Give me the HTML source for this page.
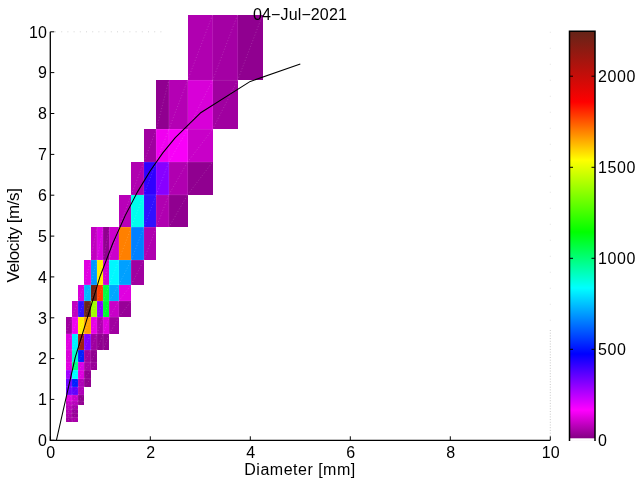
<!DOCTYPE html>
<html><head><meta charset="utf-8"><title>04-Jul-2021</title>
<style>
html,body{margin:0;padding:0;background:#fff;}
svg{display:block;}
text{font-family:"Liberation Sans",sans-serif;font-size:16px;fill:#000;}
text.t{font-size:16px;letter-spacing:0.6px;}
</style></head><body>
<svg width="640" height="480" viewBox="0 0 640 480">
<rect width="640" height="480" fill="#fff"/>
<g shape-rendering="crispEdges">
<rect x="65.65" y="417.43" width="6.25" height="4.08" fill="#a400a4"/>
<rect x="71.90" y="417.43" width="6.25" height="4.08" fill="#a800a8"/>
<rect x="65.65" y="413.35" width="6.25" height="4.09" fill="#ae00ae"/>
<rect x="71.90" y="413.35" width="6.25" height="4.09" fill="#960096"/>
<rect x="65.65" y="409.26" width="6.25" height="4.08" fill="#b400b4"/>
<rect x="71.90" y="409.26" width="6.25" height="4.08" fill="#98009c"/>
<rect x="65.65" y="405.18" width="6.25" height="4.09" fill="#ba00ba"/>
<rect x="71.90" y="405.18" width="6.25" height="4.09" fill="#a600aa"/>
<rect x="65.65" y="401.09" width="6.25" height="4.08" fill="#c400c4"/>
<rect x="71.90" y="401.09" width="6.25" height="4.08" fill="#b800bc"/>
<rect x="78.15" y="401.09" width="6.25" height="4.08" fill="#940094"/>
<rect x="65.65" y="394.96" width="6.25" height="6.13" fill="#e000e0"/>
<rect x="71.90" y="394.96" width="6.25" height="6.13" fill="#c800cc"/>
<rect x="78.15" y="394.96" width="6.25" height="6.13" fill="#900090"/>
<rect x="65.65" y="386.79" width="6.25" height="8.17" fill="#7000ff"/>
<rect x="71.90" y="386.79" width="6.25" height="8.17" fill="#6000ff"/>
<rect x="78.15" y="386.79" width="6.25" height="8.17" fill="#b000b8"/>
<rect x="65.65" y="378.62" width="6.25" height="8.17" fill="#7000ff"/>
<rect x="71.90" y="378.62" width="6.25" height="8.17" fill="#0020ff"/>
<rect x="78.15" y="378.62" width="6.25" height="8.17" fill="#b000b8"/>
<rect x="84.40" y="378.62" width="6.25" height="8.17" fill="#900090"/>
<rect x="65.65" y="370.45" width="6.25" height="8.17" fill="#a000ff"/>
<rect x="71.90" y="370.45" width="6.25" height="8.17" fill="#00ffff"/>
<rect x="78.15" y="370.45" width="6.25" height="8.17" fill="#dd00dd"/>
<rect x="84.40" y="370.45" width="6.25" height="8.17" fill="#900090"/>
<rect x="65.65" y="362.28" width="6.25" height="8.17" fill="#e000e0"/>
<rect x="71.90" y="362.28" width="6.25" height="8.17" fill="#00ff80"/>
<rect x="78.15" y="362.28" width="6.25" height="8.17" fill="#d800e8"/>
<rect x="84.40" y="362.28" width="6.25" height="8.17" fill="#a800a8"/>
<rect x="90.65" y="362.28" width="6.25" height="8.17" fill="#980098"/>
<rect x="65.65" y="350.03" width="6.25" height="12.25" fill="#d800d8"/>
<rect x="71.90" y="350.03" width="6.25" height="12.25" fill="#00ffcc"/>
<rect x="78.15" y="350.03" width="6.25" height="12.25" fill="#0020ff"/>
<rect x="84.40" y="350.03" width="6.25" height="12.25" fill="#a000a0"/>
<rect x="90.65" y="350.03" width="6.25" height="12.25" fill="#900090"/>
<rect x="65.65" y="333.69" width="6.25" height="16.34" fill="#e000e0"/>
<rect x="71.90" y="333.69" width="6.25" height="16.34" fill="#00f0ff"/>
<rect x="78.15" y="333.69" width="6.25" height="16.34" fill="#a02010"/>
<rect x="84.40" y="333.69" width="6.25" height="16.34" fill="#8000ff"/>
<rect x="90.65" y="333.69" width="6.25" height="16.34" fill="#a000a0"/>
<rect x="96.90" y="333.69" width="6.25" height="16.34" fill="#900090"/>
<rect x="103.15" y="333.69" width="6.25" height="16.34" fill="#900090"/>
<rect x="65.65" y="317.35" width="6.25" height="16.34" fill="#a000a0"/>
<rect x="71.90" y="317.35" width="6.25" height="16.34" fill="#f000f0"/>
<rect x="78.15" y="317.35" width="6.25" height="16.34" fill="#ffee00"/>
<rect x="84.40" y="317.35" width="6.25" height="16.34" fill="#ffa000"/>
<rect x="90.65" y="317.35" width="6.25" height="16.34" fill="#e800e8"/>
<rect x="96.90" y="317.35" width="6.25" height="16.34" fill="#b000b0"/>
<rect x="103.15" y="317.35" width="6.25" height="16.34" fill="#e000e0"/>
<rect x="109.40" y="317.35" width="9.40" height="16.34" fill="#a000a0"/>
<rect x="71.90" y="301.01" width="6.25" height="16.34" fill="#c000c0"/>
<rect x="78.15" y="301.01" width="6.25" height="16.34" fill="#3010ff"/>
<rect x="84.40" y="301.01" width="6.25" height="16.34" fill="#6a2418"/>
<rect x="90.65" y="301.01" width="6.25" height="16.34" fill="#a0ff00"/>
<rect x="96.90" y="301.01" width="6.25" height="16.34" fill="#9000ff"/>
<rect x="103.15" y="301.01" width="6.25" height="16.34" fill="#00ff30"/>
<rect x="109.40" y="301.01" width="9.40" height="16.34" fill="#c800c8"/>
<rect x="118.80" y="301.01" width="12.50" height="16.34" fill="#980098"/>
<rect x="78.15" y="284.67" width="6.25" height="16.34" fill="#d800d8"/>
<rect x="84.40" y="284.67" width="6.25" height="16.34" fill="#00b8ff"/>
<rect x="90.65" y="284.67" width="6.25" height="16.34" fill="#702010"/>
<rect x="96.90" y="284.67" width="6.25" height="16.34" fill="#ff4000"/>
<rect x="103.15" y="284.67" width="6.25" height="16.34" fill="#00ff40"/>
<rect x="109.40" y="284.67" width="9.40" height="16.34" fill="#00a8ff"/>
<rect x="118.80" y="284.67" width="12.50" height="16.34" fill="#e000e0"/>
<rect x="84.40" y="260.16" width="6.25" height="24.51" fill="#e000e0"/>
<rect x="90.65" y="260.16" width="6.25" height="24.51" fill="#0098ff"/>
<rect x="96.90" y="260.16" width="6.25" height="24.51" fill="#fff000"/>
<rect x="103.15" y="260.16" width="6.25" height="24.51" fill="#d000d0"/>
<rect x="109.40" y="260.16" width="9.40" height="24.51" fill="#00f8ff"/>
<rect x="118.80" y="260.16" width="12.50" height="24.51" fill="#00a0ff"/>
<rect x="131.30" y="260.16" width="12.50" height="24.51" fill="#a000a0"/>
<rect x="90.65" y="227.48" width="6.25" height="32.68" fill="#c000c0"/>
<rect x="96.90" y="227.48" width="6.25" height="32.68" fill="#d800e0"/>
<rect x="103.15" y="227.48" width="6.25" height="32.68" fill="#900090"/>
<rect x="109.40" y="227.48" width="9.40" height="32.68" fill="#cc00cc"/>
<rect x="118.80" y="227.48" width="12.50" height="32.68" fill="#ff8000"/>
<rect x="131.30" y="227.48" width="12.50" height="32.68" fill="#0080ff"/>
<rect x="143.80" y="227.48" width="12.50" height="32.68" fill="#b000b0"/>
<rect x="118.80" y="194.80" width="12.50" height="32.68" fill="#b800b8"/>
<rect x="131.30" y="194.80" width="12.50" height="32.68" fill="#00ffee"/>
<rect x="143.80" y="194.80" width="12.50" height="32.68" fill="#3010ff"/>
<rect x="156.30" y="194.80" width="12.50" height="32.68" fill="#b000b0"/>
<rect x="168.80" y="194.80" width="18.75" height="32.68" fill="#900090"/>
<rect x="131.30" y="162.12" width="12.50" height="32.68" fill="#b000b0"/>
<rect x="143.80" y="162.12" width="12.50" height="32.68" fill="#3000ff"/>
<rect x="156.30" y="162.12" width="12.50" height="32.68" fill="#8800ff"/>
<rect x="168.80" y="162.12" width="18.75" height="32.68" fill="#b000b0"/>
<rect x="187.55" y="162.12" width="25.00" height="32.68" fill="#900090"/>
<rect x="143.80" y="129.44" width="12.50" height="32.68" fill="#a000a0"/>
<rect x="156.30" y="129.44" width="12.50" height="32.68" fill="#f000f0"/>
<rect x="168.80" y="129.44" width="18.75" height="32.68" fill="#f800f8"/>
<rect x="187.55" y="129.44" width="25.00" height="32.68" fill="#c800c8"/>
<rect x="156.30" y="80.42" width="12.50" height="49.02" fill="#900090"/>
<rect x="168.80" y="80.42" width="18.75" height="49.02" fill="#b400b4"/>
<rect x="187.55" y="80.42" width="25.00" height="49.02" fill="#d800d8"/>
<rect x="212.55" y="80.42" width="25.00" height="49.02" fill="#a000a0"/>
<rect x="187.55" y="15.06" width="25.00" height="65.36" fill="#b000b0"/>
<rect x="212.55" y="15.06" width="25.00" height="65.36" fill="#a400a4"/>
<rect x="237.55" y="15.06" width="25.00" height="65.36" fill="#900090"/>
</g>
<g stroke="#fff" stroke-width="0.8" fill="none">
<path d="M65.65 421.52L71.90 417.43" stroke-opacity="0.22" stroke-dasharray="1 2"/>
<path d="M65.65 417.43H71.90" stroke-opacity="0.13"/>
<path d="M71.90 421.52V417.43" stroke-opacity="0.13"/>
<path d="M71.90 421.52L78.15 417.43" stroke-opacity="0.22" stroke-dasharray="1 2"/>
<path d="M71.90 417.43H78.15" stroke-opacity="0.13"/>
<path d="M65.65 417.43L71.90 413.35" stroke-opacity="0.22" stroke-dasharray="1 2"/>
<path d="M65.65 413.35H71.90" stroke-opacity="0.13"/>
<path d="M71.90 417.43V413.35" stroke-opacity="0.13"/>
<path d="M71.90 417.43L78.15 413.35" stroke-opacity="0.22" stroke-dasharray="1 2"/>
<path d="M71.90 413.35H78.15" stroke-opacity="0.13"/>
<path d="M65.65 413.35L71.90 409.26" stroke-opacity="0.22" stroke-dasharray="1 2"/>
<path d="M65.65 409.26H71.90" stroke-opacity="0.13"/>
<path d="M71.90 413.35V409.26" stroke-opacity="0.13"/>
<path d="M71.90 413.35L78.15 409.26" stroke-opacity="0.22" stroke-dasharray="1 2"/>
<path d="M71.90 409.26H78.15" stroke-opacity="0.13"/>
<path d="M65.65 409.26L71.90 405.18" stroke-opacity="0.22" stroke-dasharray="1 2"/>
<path d="M65.65 405.18H71.90" stroke-opacity="0.13"/>
<path d="M71.90 409.26V405.18" stroke-opacity="0.13"/>
<path d="M71.90 409.26L78.15 405.18" stroke-opacity="0.22" stroke-dasharray="1 2"/>
<path d="M71.90 405.18H78.15" stroke-opacity="0.13"/>
<path d="M65.65 405.18L71.90 401.09" stroke-opacity="0.22" stroke-dasharray="1 2"/>
<path d="M65.65 401.09H71.90" stroke-opacity="0.13"/>
<path d="M71.90 405.18V401.09" stroke-opacity="0.13"/>
<path d="M71.90 405.18L78.15 401.09" stroke-opacity="0.22" stroke-dasharray="1 2"/>
<path d="M71.90 401.09H78.15" stroke-opacity="0.13"/>
<path d="M78.15 405.18V401.09" stroke-opacity="0.13"/>
<path d="M78.15 405.18L84.40 401.09" stroke-opacity="0.22" stroke-dasharray="1 2"/>
<path d="M78.15 401.09H84.40" stroke-opacity="0.13"/>
<path d="M65.65 401.09L71.90 394.96" stroke-opacity="0.22" stroke-dasharray="1 2"/>
<path d="M65.65 394.96H71.90" stroke-opacity="0.13"/>
<path d="M71.90 401.09V394.96" stroke-opacity="0.13"/>
<path d="M71.90 401.09L78.15 394.96" stroke-opacity="0.22" stroke-dasharray="1 2"/>
<path d="M71.90 394.96H78.15" stroke-opacity="0.13"/>
<path d="M78.15 401.09V394.96" stroke-opacity="0.13"/>
<path d="M78.15 401.09L84.40 394.96" stroke-opacity="0.22" stroke-dasharray="1 2"/>
<path d="M78.15 394.96H84.40" stroke-opacity="0.13"/>
<path d="M65.65 394.96L71.90 386.79" stroke-opacity="0.22" stroke-dasharray="1 2"/>
<path d="M65.65 386.79H71.90" stroke-opacity="0.13"/>
<path d="M71.90 394.96V386.79" stroke-opacity="0.13"/>
<path d="M71.90 394.96L78.15 386.79" stroke-opacity="0.22" stroke-dasharray="1 2"/>
<path d="M71.90 386.79H78.15" stroke-opacity="0.13"/>
<path d="M78.15 394.96V386.79" stroke-opacity="0.13"/>
<path d="M78.15 394.96L84.40 386.79" stroke-opacity="0.22" stroke-dasharray="1 2"/>
<path d="M78.15 386.79H84.40" stroke-opacity="0.13"/>
<path d="M65.65 386.79L71.90 378.62" stroke-opacity="0.22" stroke-dasharray="1 2"/>
<path d="M65.65 378.62H71.90" stroke-opacity="0.13"/>
<path d="M71.90 386.79V378.62" stroke-opacity="0.13"/>
<path d="M71.90 386.79L78.15 378.62" stroke-opacity="0.22" stroke-dasharray="1 2"/>
<path d="M71.90 378.62H78.15" stroke-opacity="0.13"/>
<path d="M78.15 386.79V378.62" stroke-opacity="0.13"/>
<path d="M78.15 386.79L84.40 378.62" stroke-opacity="0.22" stroke-dasharray="1 2"/>
<path d="M78.15 378.62H84.40" stroke-opacity="0.13"/>
<path d="M84.40 386.79V378.62" stroke-opacity="0.13"/>
<path d="M84.40 386.79L90.65 378.62" stroke-opacity="0.22" stroke-dasharray="1 2"/>
<path d="M84.40 378.62H90.65" stroke-opacity="0.13"/>
<path d="M65.65 378.62L71.90 370.45" stroke-opacity="0.22" stroke-dasharray="1 2"/>
<path d="M65.65 370.45H71.90" stroke-opacity="0.13"/>
<path d="M71.90 378.62V370.45" stroke-opacity="0.13"/>
<path d="M71.90 378.62L78.15 370.45" stroke-opacity="0.22" stroke-dasharray="1 2"/>
<path d="M71.90 370.45H78.15" stroke-opacity="0.13"/>
<path d="M78.15 378.62V370.45" stroke-opacity="0.13"/>
<path d="M78.15 378.62L84.40 370.45" stroke-opacity="0.22" stroke-dasharray="1 2"/>
<path d="M78.15 370.45H84.40" stroke-opacity="0.13"/>
<path d="M84.40 378.62V370.45" stroke-opacity="0.13"/>
<path d="M84.40 378.62L90.65 370.45" stroke-opacity="0.22" stroke-dasharray="1 2"/>
<path d="M84.40 370.45H90.65" stroke-opacity="0.13"/>
<path d="M65.65 370.45L71.90 362.28" stroke-opacity="0.22" stroke-dasharray="1 2"/>
<path d="M65.65 362.28H71.90" stroke-opacity="0.13"/>
<path d="M71.90 370.45V362.28" stroke-opacity="0.13"/>
<path d="M71.90 370.45L78.15 362.28" stroke-opacity="0.22" stroke-dasharray="1 2"/>
<path d="M71.90 362.28H78.15" stroke-opacity="0.13"/>
<path d="M78.15 370.45V362.28" stroke-opacity="0.13"/>
<path d="M78.15 370.45L84.40 362.28" stroke-opacity="0.22" stroke-dasharray="1 2"/>
<path d="M78.15 362.28H84.40" stroke-opacity="0.13"/>
<path d="M84.40 370.45V362.28" stroke-opacity="0.13"/>
<path d="M84.40 370.45L90.65 362.28" stroke-opacity="0.22" stroke-dasharray="1 2"/>
<path d="M84.40 362.28H90.65" stroke-opacity="0.13"/>
<path d="M90.65 370.45V362.28" stroke-opacity="0.13"/>
<path d="M90.65 370.45L96.90 362.28" stroke-opacity="0.22" stroke-dasharray="1 2"/>
<path d="M90.65 362.28H96.90" stroke-opacity="0.13"/>
<path d="M65.65 362.28L71.90 350.03" stroke-opacity="0.22" stroke-dasharray="1 2"/>
<path d="M65.65 350.03H71.90" stroke-opacity="0.13"/>
<path d="M71.90 362.28V350.03" stroke-opacity="0.13"/>
<path d="M71.90 362.28L78.15 350.03" stroke-opacity="0.22" stroke-dasharray="1 2"/>
<path d="M71.90 350.03H78.15" stroke-opacity="0.13"/>
<path d="M78.15 362.28V350.03" stroke-opacity="0.13"/>
<path d="M78.15 362.28L84.40 350.03" stroke-opacity="0.22" stroke-dasharray="1 2"/>
<path d="M78.15 350.03H84.40" stroke-opacity="0.13"/>
<path d="M84.40 362.28V350.03" stroke-opacity="0.13"/>
<path d="M84.40 362.28L90.65 350.03" stroke-opacity="0.22" stroke-dasharray="1 2"/>
<path d="M84.40 350.03H90.65" stroke-opacity="0.13"/>
<path d="M90.65 362.28V350.03" stroke-opacity="0.13"/>
<path d="M90.65 362.28L96.90 350.03" stroke-opacity="0.22" stroke-dasharray="1 2"/>
<path d="M90.65 350.03H96.90" stroke-opacity="0.13"/>
<path d="M65.65 350.03L71.90 333.69" stroke-opacity="0.22" stroke-dasharray="1 2"/>
<path d="M65.65 333.69H71.90" stroke-opacity="0.13"/>
<path d="M71.90 350.03V333.69" stroke-opacity="0.13"/>
<path d="M71.90 350.03L78.15 333.69" stroke-opacity="0.22" stroke-dasharray="1 2"/>
<path d="M71.90 333.69H78.15" stroke-opacity="0.13"/>
<path d="M78.15 350.03V333.69" stroke-opacity="0.13"/>
<path d="M78.15 350.03L84.40 333.69" stroke-opacity="0.22" stroke-dasharray="1 2"/>
<path d="M78.15 333.69H84.40" stroke-opacity="0.13"/>
<path d="M84.40 350.03V333.69" stroke-opacity="0.13"/>
<path d="M84.40 350.03L90.65 333.69" stroke-opacity="0.22" stroke-dasharray="1 2"/>
<path d="M84.40 333.69H90.65" stroke-opacity="0.13"/>
<path d="M90.65 350.03V333.69" stroke-opacity="0.13"/>
<path d="M90.65 350.03L96.90 333.69" stroke-opacity="0.22" stroke-dasharray="1 2"/>
<path d="M90.65 333.69H96.90" stroke-opacity="0.13"/>
<path d="M96.90 350.03V333.69" stroke-opacity="0.13"/>
<path d="M96.90 350.03L103.15 333.69" stroke-opacity="0.22" stroke-dasharray="1 2"/>
<path d="M96.90 333.69H103.15" stroke-opacity="0.13"/>
<path d="M103.15 350.03V333.69" stroke-opacity="0.13"/>
<path d="M103.15 350.03L109.40 333.69" stroke-opacity="0.22" stroke-dasharray="1 2"/>
<path d="M103.15 333.69H109.40" stroke-opacity="0.13"/>
<path d="M65.65 333.69L71.90 317.35" stroke-opacity="0.22" stroke-dasharray="1 2"/>
<path d="M71.90 333.69V317.35" stroke-opacity="0.13"/>
<path d="M71.90 333.69L78.15 317.35" stroke-opacity="0.22" stroke-dasharray="1 2"/>
<path d="M71.90 317.35H78.15" stroke-opacity="0.13"/>
<path d="M78.15 333.69V317.35" stroke-opacity="0.13"/>
<path d="M78.15 333.69L84.40 317.35" stroke-opacity="0.22" stroke-dasharray="1 2"/>
<path d="M78.15 317.35H84.40" stroke-opacity="0.13"/>
<path d="M84.40 333.69V317.35" stroke-opacity="0.13"/>
<path d="M84.40 333.69L90.65 317.35" stroke-opacity="0.22" stroke-dasharray="1 2"/>
<path d="M84.40 317.35H90.65" stroke-opacity="0.13"/>
<path d="M90.65 333.69V317.35" stroke-opacity="0.13"/>
<path d="M90.65 333.69L96.90 317.35" stroke-opacity="0.22" stroke-dasharray="1 2"/>
<path d="M90.65 317.35H96.90" stroke-opacity="0.13"/>
<path d="M96.90 333.69V317.35" stroke-opacity="0.13"/>
<path d="M96.90 333.69L103.15 317.35" stroke-opacity="0.22" stroke-dasharray="1 2"/>
<path d="M96.90 317.35H103.15" stroke-opacity="0.13"/>
<path d="M103.15 333.69V317.35" stroke-opacity="0.13"/>
<path d="M103.15 333.69L109.40 317.35" stroke-opacity="0.22" stroke-dasharray="1 2"/>
<path d="M103.15 317.35H109.40" stroke-opacity="0.13"/>
<path d="M109.40 333.69V317.35" stroke-opacity="0.13"/>
<path d="M109.40 333.69L118.80 317.35" stroke-opacity="0.22" stroke-dasharray="1 2"/>
<path d="M109.40 317.35H118.80" stroke-opacity="0.13"/>
<path d="M71.90 317.35L78.15 301.01" stroke-opacity="0.22" stroke-dasharray="1 2"/>
<path d="M78.15 317.35V301.01" stroke-opacity="0.13"/>
<path d="M78.15 317.35L84.40 301.01" stroke-opacity="0.22" stroke-dasharray="1 2"/>
<path d="M78.15 301.01H84.40" stroke-opacity="0.13"/>
<path d="M84.40 317.35V301.01" stroke-opacity="0.13"/>
<path d="M84.40 317.35L90.65 301.01" stroke-opacity="0.22" stroke-dasharray="1 2"/>
<path d="M84.40 301.01H90.65" stroke-opacity="0.13"/>
<path d="M90.65 317.35V301.01" stroke-opacity="0.13"/>
<path d="M90.65 317.35L96.90 301.01" stroke-opacity="0.22" stroke-dasharray="1 2"/>
<path d="M90.65 301.01H96.90" stroke-opacity="0.13"/>
<path d="M96.90 317.35V301.01" stroke-opacity="0.13"/>
<path d="M96.90 317.35L103.15 301.01" stroke-opacity="0.22" stroke-dasharray="1 2"/>
<path d="M96.90 301.01H103.15" stroke-opacity="0.13"/>
<path d="M103.15 317.35V301.01" stroke-opacity="0.13"/>
<path d="M103.15 317.35L109.40 301.01" stroke-opacity="0.22" stroke-dasharray="1 2"/>
<path d="M103.15 301.01H109.40" stroke-opacity="0.13"/>
<path d="M109.40 317.35V301.01" stroke-opacity="0.13"/>
<path d="M109.40 317.35L118.80 301.01" stroke-opacity="0.22" stroke-dasharray="1 2"/>
<path d="M109.40 301.01H118.80" stroke-opacity="0.13"/>
<path d="M118.80 317.35V301.01" stroke-opacity="0.13"/>
<path d="M118.80 317.35L131.30 301.01" stroke-opacity="0.22" stroke-dasharray="1 2"/>
<path d="M118.80 301.01H131.30" stroke-opacity="0.13"/>
<path d="M78.15 301.01L84.40 284.67" stroke-opacity="0.22" stroke-dasharray="1 2"/>
<path d="M84.40 301.01V284.67" stroke-opacity="0.13"/>
<path d="M84.40 301.01L90.65 284.67" stroke-opacity="0.22" stroke-dasharray="1 2"/>
<path d="M84.40 284.67H90.65" stroke-opacity="0.13"/>
<path d="M90.65 301.01V284.67" stroke-opacity="0.13"/>
<path d="M90.65 301.01L96.90 284.67" stroke-opacity="0.22" stroke-dasharray="1 2"/>
<path d="M90.65 284.67H96.90" stroke-opacity="0.13"/>
<path d="M96.90 301.01V284.67" stroke-opacity="0.13"/>
<path d="M96.90 301.01L103.15 284.67" stroke-opacity="0.22" stroke-dasharray="1 2"/>
<path d="M96.90 284.67H103.15" stroke-opacity="0.13"/>
<path d="M103.15 301.01V284.67" stroke-opacity="0.13"/>
<path d="M103.15 301.01L109.40 284.67" stroke-opacity="0.22" stroke-dasharray="1 2"/>
<path d="M103.15 284.67H109.40" stroke-opacity="0.13"/>
<path d="M109.40 301.01V284.67" stroke-opacity="0.13"/>
<path d="M109.40 301.01L118.80 284.67" stroke-opacity="0.22" stroke-dasharray="1 2"/>
<path d="M109.40 284.67H118.80" stroke-opacity="0.13"/>
<path d="M118.80 301.01V284.67" stroke-opacity="0.13"/>
<path d="M118.80 301.01L131.30 284.67" stroke-opacity="0.22" stroke-dasharray="1 2"/>
<path d="M118.80 284.67H131.30" stroke-opacity="0.13"/>
<path d="M84.40 284.67L90.65 260.16" stroke-opacity="0.22" stroke-dasharray="1 2"/>
<path d="M90.65 284.67V260.16" stroke-opacity="0.13"/>
<path d="M90.65 284.67L96.90 260.16" stroke-opacity="0.22" stroke-dasharray="1 2"/>
<path d="M90.65 260.16H96.90" stroke-opacity="0.13"/>
<path d="M96.90 284.67V260.16" stroke-opacity="0.13"/>
<path d="M96.90 284.67L103.15 260.16" stroke-opacity="0.22" stroke-dasharray="1 2"/>
<path d="M96.90 260.16H103.15" stroke-opacity="0.13"/>
<path d="M103.15 284.67V260.16" stroke-opacity="0.13"/>
<path d="M103.15 284.67L109.40 260.16" stroke-opacity="0.22" stroke-dasharray="1 2"/>
<path d="M103.15 260.16H109.40" stroke-opacity="0.13"/>
<path d="M109.40 284.67V260.16" stroke-opacity="0.13"/>
<path d="M109.40 284.67L118.80 260.16" stroke-opacity="0.22" stroke-dasharray="1 2"/>
<path d="M109.40 260.16H118.80" stroke-opacity="0.13"/>
<path d="M118.80 284.67V260.16" stroke-opacity="0.13"/>
<path d="M118.80 284.67L131.30 260.16" stroke-opacity="0.22" stroke-dasharray="1 2"/>
<path d="M118.80 260.16H131.30" stroke-opacity="0.13"/>
<path d="M131.30 284.67V260.16" stroke-opacity="0.13"/>
<path d="M131.30 284.67L143.80 260.16" stroke-opacity="0.22" stroke-dasharray="1 2"/>
<path d="M131.30 260.16H143.80" stroke-opacity="0.13"/>
<path d="M90.65 260.16L96.90 227.48" stroke-opacity="0.22" stroke-dasharray="1 2"/>
<path d="M96.90 260.16V227.48" stroke-opacity="0.13"/>
<path d="M96.90 260.16L103.15 227.48" stroke-opacity="0.22" stroke-dasharray="1 2"/>
<path d="M103.15 260.16V227.48" stroke-opacity="0.13"/>
<path d="M103.15 260.16L109.40 227.48" stroke-opacity="0.22" stroke-dasharray="1 2"/>
<path d="M109.40 260.16V227.48" stroke-opacity="0.13"/>
<path d="M109.40 260.16L118.80 227.48" stroke-opacity="0.22" stroke-dasharray="1 2"/>
<path d="M118.80 260.16V227.48" stroke-opacity="0.13"/>
<path d="M118.80 260.16L131.30 227.48" stroke-opacity="0.22" stroke-dasharray="1 2"/>
<path d="M118.80 227.48H131.30" stroke-opacity="0.13"/>
<path d="M131.30 260.16V227.48" stroke-opacity="0.13"/>
<path d="M131.30 260.16L143.80 227.48" stroke-opacity="0.22" stroke-dasharray="1 2"/>
<path d="M131.30 227.48H143.80" stroke-opacity="0.13"/>
<path d="M143.80 260.16V227.48" stroke-opacity="0.13"/>
<path d="M143.80 260.16L156.30 227.48" stroke-opacity="0.22" stroke-dasharray="1 2"/>
<path d="M143.80 227.48H156.30" stroke-opacity="0.13"/>
<path d="M118.80 227.48L131.30 194.80" stroke-opacity="0.22" stroke-dasharray="1 2"/>
<path d="M131.30 227.48V194.80" stroke-opacity="0.13"/>
<path d="M131.30 227.48L143.80 194.80" stroke-opacity="0.22" stroke-dasharray="1 2"/>
<path d="M131.30 194.80H143.80" stroke-opacity="0.13"/>
<path d="M143.80 227.48V194.80" stroke-opacity="0.13"/>
<path d="M143.80 227.48L156.30 194.80" stroke-opacity="0.22" stroke-dasharray="1 2"/>
<path d="M143.80 194.80H156.30" stroke-opacity="0.13"/>
<path d="M156.30 227.48V194.80" stroke-opacity="0.13"/>
<path d="M156.30 227.48L168.80 194.80" stroke-opacity="0.22" stroke-dasharray="1 2"/>
<path d="M156.30 194.80H168.80" stroke-opacity="0.13"/>
<path d="M168.80 227.48V194.80" stroke-opacity="0.13"/>
<path d="M168.80 227.48L187.55 194.80" stroke-opacity="0.22" stroke-dasharray="1 2"/>
<path d="M168.80 194.80H187.55" stroke-opacity="0.13"/>
<path d="M131.30 194.80L143.80 162.12" stroke-opacity="0.22" stroke-dasharray="1 2"/>
<path d="M143.80 194.80V162.12" stroke-opacity="0.13"/>
<path d="M143.80 194.80L156.30 162.12" stroke-opacity="0.22" stroke-dasharray="1 2"/>
<path d="M143.80 162.12H156.30" stroke-opacity="0.13"/>
<path d="M156.30 194.80V162.12" stroke-opacity="0.13"/>
<path d="M156.30 194.80L168.80 162.12" stroke-opacity="0.22" stroke-dasharray="1 2"/>
<path d="M156.30 162.12H168.80" stroke-opacity="0.13"/>
<path d="M168.80 194.80V162.12" stroke-opacity="0.13"/>
<path d="M168.80 194.80L187.55 162.12" stroke-opacity="0.22" stroke-dasharray="1 2"/>
<path d="M168.80 162.12H187.55" stroke-opacity="0.13"/>
<path d="M187.55 194.80V162.12" stroke-opacity="0.13"/>
<path d="M187.55 194.80L212.55 162.12" stroke-opacity="0.22" stroke-dasharray="1 2"/>
<path d="M187.55 162.12H212.55" stroke-opacity="0.13"/>
<path d="M143.80 162.12L156.30 129.44" stroke-opacity="0.22" stroke-dasharray="1 2"/>
<path d="M156.30 162.12V129.44" stroke-opacity="0.13"/>
<path d="M156.30 162.12L168.80 129.44" stroke-opacity="0.22" stroke-dasharray="1 2"/>
<path d="M156.30 129.44H168.80" stroke-opacity="0.13"/>
<path d="M168.80 162.12V129.44" stroke-opacity="0.13"/>
<path d="M168.80 162.12L187.55 129.44" stroke-opacity="0.22" stroke-dasharray="1 2"/>
<path d="M168.80 129.44H187.55" stroke-opacity="0.13"/>
<path d="M187.55 162.12V129.44" stroke-opacity="0.13"/>
<path d="M187.55 162.12L212.55 129.44" stroke-opacity="0.22" stroke-dasharray="1 2"/>
<path d="M187.55 129.44H212.55" stroke-opacity="0.13"/>
<path d="M156.30 129.44L168.80 80.42" stroke-opacity="0.22" stroke-dasharray="1 2"/>
<path d="M168.80 129.44V80.42" stroke-opacity="0.13"/>
<path d="M168.80 129.44L187.55 80.42" stroke-opacity="0.22" stroke-dasharray="1 2"/>
<path d="M187.55 129.44V80.42" stroke-opacity="0.13"/>
<path d="M187.55 129.44L212.55 80.42" stroke-opacity="0.22" stroke-dasharray="1 2"/>
<path d="M187.55 80.42H212.55" stroke-opacity="0.13"/>
<path d="M212.55 129.44V80.42" stroke-opacity="0.13"/>
<path d="M212.55 129.44L237.55 80.42" stroke-opacity="0.22" stroke-dasharray="1 2"/>
<path d="M212.55 80.42H237.55" stroke-opacity="0.13"/>
<path d="M187.55 80.42L212.55 15.06" stroke-opacity="0.22" stroke-dasharray="1 2"/>
<path d="M212.55 80.42V15.06" stroke-opacity="0.13"/>
<path d="M212.55 80.42L237.55 15.06" stroke-opacity="0.22" stroke-dasharray="1 2"/>
<path d="M237.55 80.42V15.06" stroke-opacity="0.13"/>
<path d="M237.55 80.42L262.55 15.06" stroke-opacity="0.22" stroke-dasharray="1 2"/>
</g>
<polyline points="56.38,440.30 75.30,357.14 100.30,275.71 112.80,243.28 125.30,215.38 137.80,191.36 150.30,170.69 162.80,152.89 175.30,137.58 200.30,113.05 250.30,81.42 300.30,64.06" fill="none" stroke="#000" stroke-width="1.05" stroke-linejoin="round"/>
<path d="M50.3 31.8V440.3H550.3" fill="none" stroke="#000" stroke-width="1.3"/>
<path d="M50.3 440.3h4" stroke="#000" stroke-width="1"/>
<text x="46.8" y="446.1" text-anchor="end">0</text>
<path d="M50.3 399.4h4" stroke="#000" stroke-width="1"/>
<text x="46.8" y="405.2" text-anchor="end">1</text>
<path d="M50.3 358.6h4" stroke="#000" stroke-width="1"/>
<text x="46.8" y="364.4" text-anchor="end">2</text>
<path d="M50.3 317.8h4" stroke="#000" stroke-width="1"/>
<text x="46.8" y="323.6" text-anchor="end">3</text>
<path d="M50.3 276.9h4" stroke="#000" stroke-width="1"/>
<text x="46.8" y="282.7" text-anchor="end">4</text>
<path d="M50.3 236.1h4" stroke="#000" stroke-width="1"/>
<text x="46.8" y="241.9" text-anchor="end">5</text>
<path d="M50.3 195.2h4" stroke="#000" stroke-width="1"/>
<text x="46.8" y="201.0" text-anchor="end">6</text>
<path d="M50.3 154.4h4" stroke="#000" stroke-width="1"/>
<text x="46.8" y="160.2" text-anchor="end">7</text>
<path d="M50.3 113.5h4" stroke="#000" stroke-width="1"/>
<text x="46.8" y="119.3" text-anchor="end">8</text>
<path d="M50.3 72.6h4" stroke="#000" stroke-width="1"/>
<text x="46.8" y="78.4" text-anchor="end">9</text>
<path d="M50.3 31.8h4" stroke="#000" stroke-width="1"/>
<text x="46.8" y="37.6" text-anchor="end">10</text>
<path d="M50.3 440.3v-4" stroke="#000" stroke-width="1"/>
<text x="50.7" y="458.4" text-anchor="middle">0</text>
<path d="M150.3 440.3v-4" stroke="#000" stroke-width="1"/>
<text x="150.7" y="458.4" text-anchor="middle">2</text>
<path d="M250.3 440.3v-4" stroke="#000" stroke-width="1"/>
<text x="250.7" y="458.4" text-anchor="middle">4</text>
<path d="M350.3 440.3v-4" stroke="#000" stroke-width="1"/>
<text x="350.7" y="458.4" text-anchor="middle">6</text>
<path d="M450.3 440.3v-4" stroke="#000" stroke-width="1"/>
<text x="450.7" y="458.4" text-anchor="middle">8</text>
<path d="M550.3 440.3v-4" stroke="#000" stroke-width="1"/>
<text x="550.7" y="458.4" text-anchor="middle">10</text>
<path d="M55 31.8H165" stroke="#bbb" stroke-width="1" stroke-dasharray="1 5.2" stroke-opacity="0.6"/>
<path d="M550.3 31.8V330" stroke="#ccc" stroke-width="1" stroke-dasharray="1 15" stroke-opacity="0.5"/>
<path d="M550.3 330V436" stroke="#bbb" stroke-width="1" stroke-dasharray="1 1.7" stroke-opacity="0.8"/>
<text x="300" y="474.5" text-anchor="middle" letter-spacing="0.5">Diameter [mm]</text>
<text transform="translate(18.8,235.5) rotate(-90)" text-anchor="middle" style="font-size:17px;letter-spacing:-0.45px">Velocity [m/s]</text>
<text x="300" y="20.3" text-anchor="middle" letter-spacing="0.12">04−Jul−2021</text>
<defs><linearGradient id="cb" x1="0" y1="1" x2="0" y2="0">
<stop offset="0.0007" stop-color="#7c007c"/>
<stop offset="0.0741" stop-color="#ff00ff"/>
<stop offset="0.2110" stop-color="#0000ff"/>
<stop offset="0.3724" stop-color="#00ffff"/>
<stop offset="0.5093" stop-color="#00ff00"/>
<stop offset="0.6853" stop-color="#ffff00"/>
<stop offset="0.8271" stop-color="#ff0000"/>
<stop offset="1.0007" stop-color="#642418"/>
</linearGradient></defs>
<rect x="569.5" y="31.3" width="25.5" height="409.0" fill="url(#cb)"/>
<rect x="569.5" y="438.3" width="25.5" height="2.6" fill="#fff"/>
<path d="M569.5 440.90000000000003V31.3H595.0V440.90000000000003" fill="none" stroke="#000" stroke-width="1.5"/>
<text class="t" x="598" y="446.3">0</text>
<path d="M569.5 349.3h3.5M595.0 349.3h-3.5" stroke="#000" stroke-width="1"/>
<text class="t" x="598" y="355.3">500</text>
<path d="M569.5 258.3h3.5M595.0 258.3h-3.5" stroke="#000" stroke-width="1"/>
<text class="t" x="598" y="264.3">1000</text>
<path d="M569.5 167.3h3.5M595.0 167.3h-3.5" stroke="#000" stroke-width="1"/>
<text class="t" x="598" y="173.3">1500</text>
<path d="M569.5 76.2h3.5M595.0 76.2h-3.5" stroke="#000" stroke-width="1"/>
<text class="t" x="598" y="82.2">2000</text>
</svg>
</body></html>
